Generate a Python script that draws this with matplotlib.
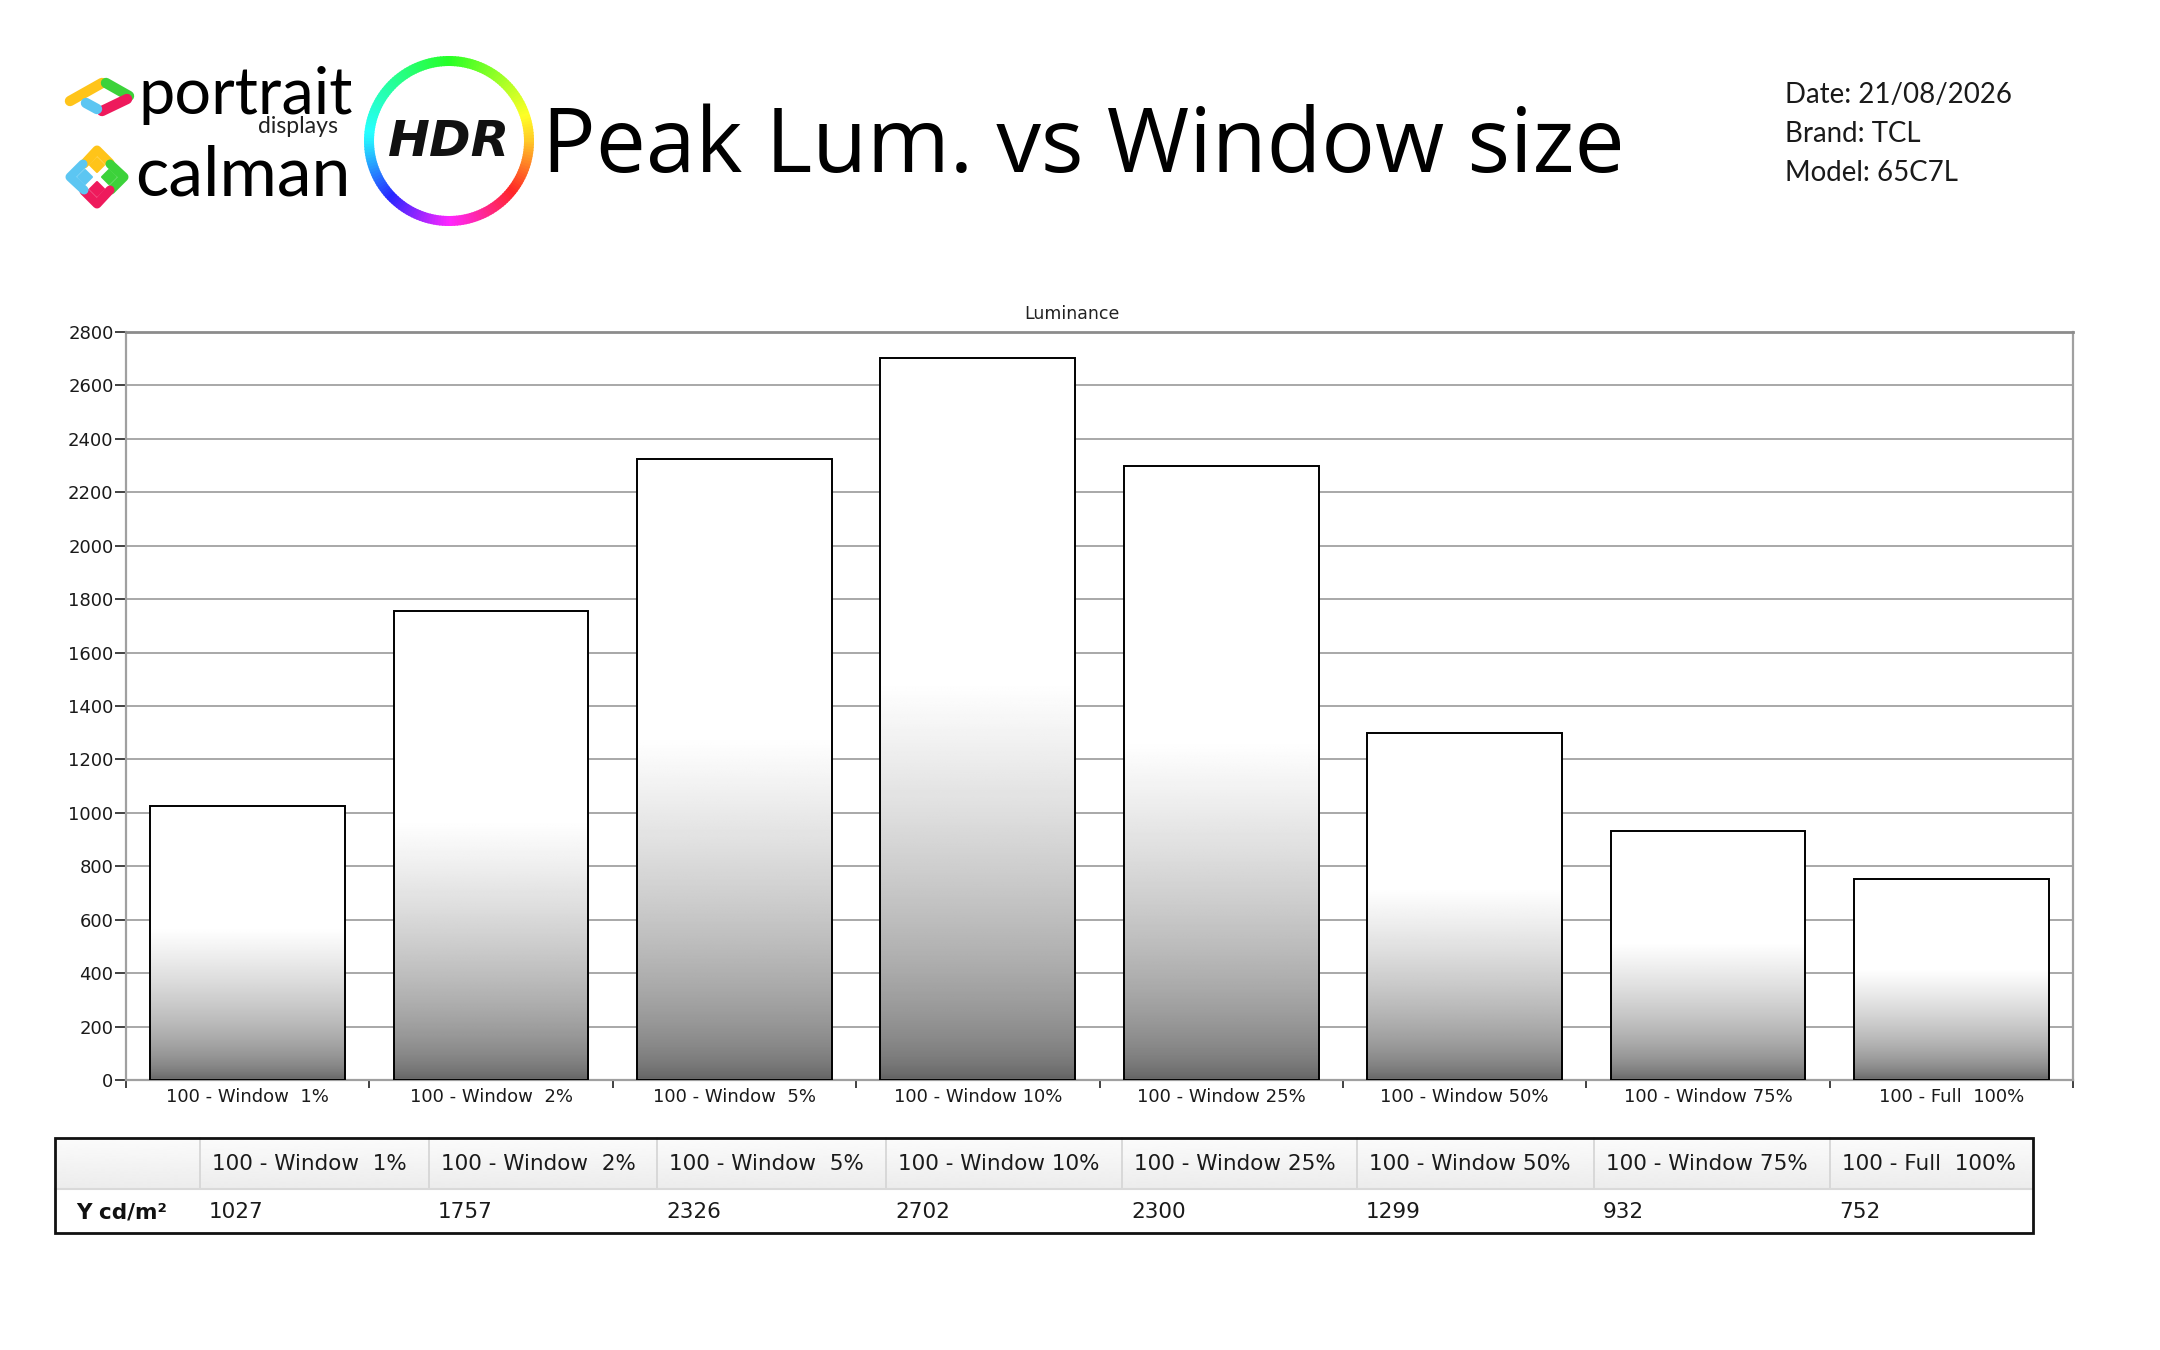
import numpy as np
import matplotlib
matplotlib.use('Agg')
import matplotlib.pyplot as plt
from matplotlib.patches import Rectangle, Polygon, Wedge
from matplotlib.colors import hsv_to_rgb

# ---------------- data ----------------
categories = ["100 - Window  1%", "100 - Window  2%", "100 - Window  5%",
              "100 - Window 10%", "100 - Window 25%", "100 - Window 50%",
              "100 - Window 75%", "100 - Full  100%"]
luminance = [1027, 1757, 2326, 2702, 2300, 1299, 932, 752]
y_ticks = [0, 200, 400, 600, 800, 1000, 1200, 1400, 1600, 1800, 2000,
           2200, 2400, 2600, 2800]
row_label = "Y cd/m\u00b2"
chart_title = "Peak Lum. vs Window size"
series_title = "Luminance"
info_lines = ["Date: 21/08/2026", "Brand: TCL", "Model: 65C7L"]

# ---------------- figure ----------------
W, H = 2160, 1350
fig = plt.figure(figsize=(W / 100, H / 100), dpi=100)
fig.patch.set_facecolor('white')

bg = fig.add_axes([0, 0, 1, 1], zorder=0)
bg.set_xlim(0, W)
bg.set_ylim(H, 0)
bg.axis('off')

renderer = fig.canvas.get_renderer()


def fit(ax, x, y, s, width, ha='left', va='baseline', **kw):
    t = ax.text(x, y, s, fontsize=20, ha=ha, va=va, **kw)
    w = t.get_window_extent(renderer).width
    t.set_fontsize(20 * width / w)
    return t


# ---------------- logos ----------------
YEL, GRN, PNK, BLU = '#FFC419', '#3CD23A', '#EE1A5C', '#5CC6F2'
lw_icon = 7.5
cap = dict(solid_capstyle='round', solid_joinstyle='round')
# portrait icon
bg.plot([70, 102], [101, 83], color=YEL, lw=lw_icon, **cap)
bg.plot([106, 129], [83, 96], color=GRN, lw=lw_icon, **cap)
bg.plot([127, 102], [99, 111], color=PNK, lw=lw_icon, **cap)
bg.plot([97, 86], [109, 103], color=BLU, lw=lw_icon, **cap)

# calman icon
cx, cy, R = 97, 177, 27
chevrons = [
    (YEL, [(cx - 13, cy - R + 14), (cx, cy - R), (cx + 13, cy - R + 13)]),
    (GRN, [(cx + R - 14, cy - 13), (cx + R, cy), (cx + R - 13, cy + 13)]),
    (PNK, [(cx + 13, cy + R - 14), (cx, cy + R), (cx - 13, cy + R - 13)]),
    (BLU, [(cx - R + 14, cy + 13), (cx - R, cy), (cx - R + 13, cy - 13)]),
]
for col, pts in chevrons:
    xs, ys = zip(*pts)
    bg.plot(xs, ys, color=col, lw=6.5, **cap)
r = 7
for col, (dx, dy) in [(YEL, (0, -12)), (GRN, (12, 0)), (PNK, (0, 12)), (BLU, (-12, 0))]:
    px, py = cx + dx, cy + dy
    bg.add_patch(Polygon([(px, py - r), (px + r, py), (px, py + r), (px - r, py)],
                         closed=True, facecolor=col, edgecolor=col, lw=1.5,
                         joinstyle='round'))

fit(bg, 138, 114, "portrait", 215, family='Lato', color='black')
fit(bg, 338, 133, "displays", 80, ha='right', family='Lato', color='#222222')
fit(bg, 135, 196, "calman", 216, family='Lato', color='black')

# HDR ring
hx, hy, ro, thick = 449, 141, 85, 10
n = 180
phi_pts = [0, 90, 180, 270, 360]
hue_pts = [45, 120, 185, 300, 405]
for i in range(n):
    t1 = i * 360 / n
    t2 = t1 + 360 / n + 0.6
    mid = (t1 + t2) / 2
    phi = (-mid) % 360          # visual angle (y axis is inverted)
    hue = (np.interp(phi, phi_pts, hue_pts) % 360) / 360
    bg.add_patch(Wedge((hx, hy), ro, t1, t2, width=thick,
                       facecolor=hsv_to_rgb((hue, 0.85, 1.0)), edgecolor='none'))
fit(bg, 449, 156, "HDR", 122, ha='center', family='DejaVu Sans',
    fontweight='bold', fontstyle='italic', color='#111111')

# title
fit(bg, 542, 172, chart_title, 1081, family='Open Sans', color='black')

# info block
t0 = fit(bg, 1785, 103, info_lines[0], 226, family='Lato', color='#1a1a1a')
fs_info = t0.get_fontsize()
for i, s in enumerate(info_lines[1:], start=1):
    bg.text(1785, 103 + i * 39, s, fontsize=fs_info, family='Lato',
            color='#1a1a1a', va='baseline')

# series title
bg.text(1072, 314, series_title, ha='center', va='center', fontsize=12.5,
        family='DejaVu Sans', color='#222222')

# ---------------- chart ----------------
ax = fig.add_axes([126 / W, 1 - 1080 / H, (2073 - 126) / W, (1080 - 332) / H], zorder=2)
x = np.arange(len(categories))
bar_w = 0.8
bars = ax.bar(x, luminance, width=bar_w, facecolor='none', edgecolor='black',
              linewidth=1.4, zorder=3)

tt = np.linspace(0, 1, 400)
g = np.where(tt >= 0.55, 1.0, 0.37 + 0.63 * (np.clip(tt, 0, 0.55) / 0.55) ** 0.58)
grad = np.repeat(g[:, None], 2, axis=1)
for xi, v, b in zip(x, luminance, bars):
    im = ax.imshow(grad, extent=[xi - bar_w / 2, xi + bar_w / 2, 0, v], origin='lower',
                   cmap='gray', vmin=0, vmax=1, aspect='auto', zorder=2,
                   interpolation='bilinear')
    im.set_clip_path(b)

ax.set_xlim(-0.5, len(categories) - 0.5)
ax.set_ylim(0, 2800)
ax.set_yticks(y_ticks)
ax.set_yticklabels([str(v) for v in y_ticks])
ax.set_xticks(x)
ax.set_xticklabels(categories)
ax.set_xticks(np.arange(-0.5, len(categories), 1.0), minor=True)
ax.tick_params(axis='y', length=8, width=1.3, color='#333333', pad=1,
               labelsize=13, labelcolor='#1a1a1a')
ax.tick_params(axis='x', which='major', length=0, pad=6, labelsize=13,
               labelcolor='#1a1a1a')
ax.tick_params(axis='x', which='minor', length=6, width=1.3, color='#333333')
ax.set_axisbelow(True)
ax.yaxis.grid(True, color='#a8a8a8', linewidth=1.4)
for sp in ax.spines.values():
    sp.set_color('#a0a0a0')
    sp.set_linewidth(1.6)
ax.spines['top'].set_color('#8c8c8c')
ax.spines['top'].set_linewidth(2.0)
for lab in ax.get_xticklabels() + ax.get_yticklabels():
    lab.set_family('DejaVu Sans')

# ---------------- table ----------------
col_edges = [55, 200, 429, 657, 886, 1122, 1357, 1594, 1830, 2033]
tbl_top, tbl_mid, tbl_bot = 1138, 1189, 1233
hdr_grad = np.linspace(0.985, 0.925, 100)[:, None]
bg.imshow(np.repeat(hdr_grad, 2, axis=1), extent=[col_edges[0], col_edges[-1], tbl_mid, tbl_top],
          cmap='gray', vmin=0, vmax=1, aspect='auto', zorder=1, interpolation='bilinear')
bg.set_xlim(0, W)
bg.set_ylim(H, 0)
for xe in col_edges[1:-1]:
    bg.plot([xe, xe], [tbl_top, tbl_mid], color='#d6d6d6', lw=1.3, zorder=2)
bg.plot([col_edges[0], col_edges[-1]], [tbl_mid, tbl_mid], color='#d9d9d9', lw=1.5, zorder=2)
bg.add_patch(Rectangle((col_edges[0], tbl_top), col_edges[-1] - col_edges[0],
                       tbl_bot - tbl_top, facecolor='none', edgecolor='#111111',
                       lw=2.0, zorder=3))
for i, (lab, v) in enumerate(zip(categories, luminance)):
    left = col_edges[i + 1]
    bg.text(left + 12, (tbl_top + tbl_mid) / 2 + 1, lab, fontsize=15.5, va='center',
            family='DejaVu Sans', color='#1a1a1a', zorder=4)
    bg.text(left + 9, (tbl_mid + tbl_bot) / 2 + 1, str(v), fontsize=15.5, va='center',
            family='DejaVu Sans', color='#1a1a1a', zorder=4)
bg.text(76, (tbl_mid + tbl_bot) / 2 + 1, row_label, fontsize=15.5, va='center',
        family='DejaVu Sans', fontweight='bold', color='#111111', zorder=4)

fig.savefig('out.png', dpi=100, facecolor='white')
